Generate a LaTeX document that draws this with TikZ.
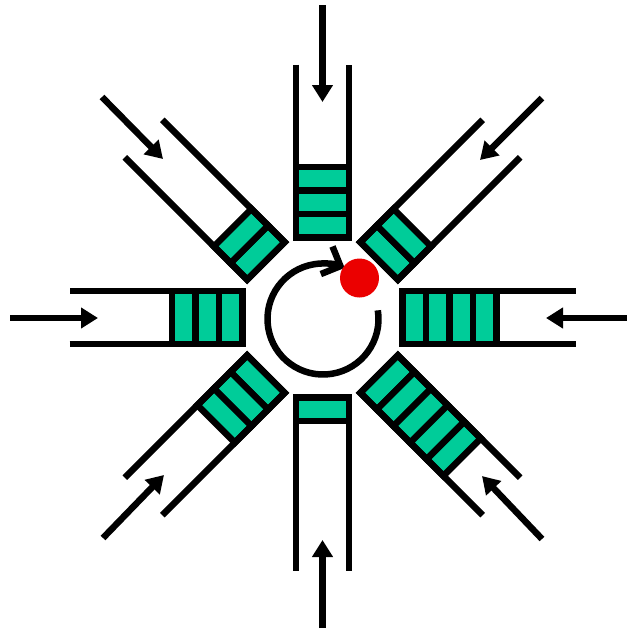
\documentclass[tikz,border=0pt]{standalone}
\usetikzlibrary{arrows.meta,calc}
\definecolor{qgreen}{RGB}{0,204,153}
\definecolor{dotred}{RGB}{235,0,0}
\begin{document}
\begin{tikzpicture}[x=1pt,y=-1pt,
  wall/.style={line width=6.5pt, line join=miter, line cap=butt},
  cellbox/.style={fill=qgreen, draw=black, line width=6.5pt},
  inarrow/.style={line width=6.5pt, -{Triangle[length=17pt,width=20pt]}},
  cyclearrow/.style={line width=6.5pt, -{Straight Barb[length=15pt,width=30pt]}},
  pics/queue/.style={code={
     \foreach \k in {1,...,#1}{\path[cellbox] ({80+23.5*(\k-1)},-26.5) rectangle ({80+23.5*\k},26.5);}
     \draw[wall] (253,-26.5) -- (80,-26.5) -- (80,26.5) -- (253,26.5);
  }}]
\useasboundingbox (0,0) rectangle (627,630);
\coordinate (ctr) at (322.5,317.5);
% queues
\pic[rotate=90]  at (ctr) {queue=3};
\pic[rotate=45]  at (ctr) {queue=2};
\pic[rotate=0]   at (ctr) {queue=4};
\pic[rotate=315] at (ctr) {queue=5};
\pic[rotate=270] at (ctr) {queue=1};
\pic[rotate=225] at (ctr) {queue=3};
\pic[rotate=180] at (ctr) {queue=3};
\pic[rotate=135] at (ctr) {queue=2};
% incoming arrows
\coordinate (aN1) at (322.5,5);   \coordinate (aN2) at (322.5,102);
\coordinate (aS1) at (322.5,628); \coordinate (aS2) at (322.5,540);
\coordinate (aW1) at (10,318);    \coordinate (aW2) at (98,318);
\coordinate (aE1) at (627,318);   \coordinate (aE2) at (546,318);
\coordinate (aNW1) at (102,97);   \coordinate (aNW2) at (163,159);
\coordinate (aNE1) at (542,98);   \coordinate (aNE2) at (480,160);
\coordinate (aSW1) at (103,538);  \coordinate (aSW2) at (164,475);
\coordinate (aSE1) at (542,539);  \coordinate (aSE2) at (482,476);
\foreach \d in {N,S,W,E,NW,NE,SW,SE}{\draw[inarrow] (a\d1) -- (a\d2);}
% round-robin arc
\coordinate (cc) at (323,319);
\draw[cyclearrow] ($(cc)+(-9:55.5)$) arc[start angle=-9, end angle=293, radius=55.5];
\node[circle, fill=dotred, minimum size=39pt, inner sep=0pt] (dot) at (359.5,278) {};
\end{tikzpicture}
\end{document}
